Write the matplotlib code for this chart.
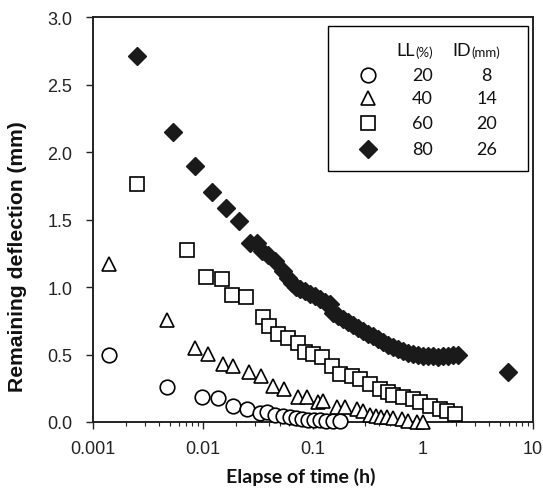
import matplotlib.pyplot as plt
from matplotlib.patches import Rectangle

# LL 20 %, ID 8 mm (open circles)
t_c = [0.0014, 0.0047, 0.0098, 0.0137, 0.0187, 0.0251, 0.033, 0.0382, 0.0452,
       0.0533, 0.0618, 0.070, 0.079, 0.090, 0.102, 0.116, 0.131, 0.152, 0.176]
d_c = [0.50, 0.26, 0.185, 0.178, 0.119, 0.096, 0.067, 0.074, 0.052,
       0.044, 0.037, 0.030, 0.022, 0.015, 0.015, 0.015, 0.007, 0.007, 0.007]

# LL 40 %, ID 14 mm (open triangles)
t_t = [0.0014, 0.0047, 0.00845, 0.0111, 0.0152, 0.0187, 0.0262, 0.0337, 0.0433,
       0.0545, 0.0731, 0.0882, 0.111, 0.123, 0.165, 0.195, 0.251, 0.285, 0.33,
       0.374, 0.415, 0.471, 0.534, 0.644, 0.731, 0.881, 1.0]
d_t = [1.17, 0.756, 0.548, 0.504, 0.430, 0.415, 0.370, 0.341, 0.267,
       0.244, 0.185, 0.185, 0.148, 0.156, 0.111, 0.111, 0.096, 0.081, 0.052,
       0.044, 0.037, 0.037, 0.030, 0.022, 0.007, 0.0, 0.0]

# LL 60 %, ID 20 mm (open squares)
t_s = [0.0025, 0.00716, 0.01064, 0.0149, 0.0184, 0.0246, 0.0351, 0.0398, 0.0481,
       0.0593, 0.0731, 0.0846, 0.1, 0.121, 0.149, 0.176, 0.226, 0.267, 0.33,
       0.406, 0.48, 0.533, 0.658, 0.81, 0.94, 1.16, 1.43, 1.65, 1.95]
d_s = [1.763, 1.274, 1.074, 1.059, 0.941, 0.926, 0.778, 0.711, 0.652,
       0.622, 0.585, 0.519, 0.504, 0.481, 0.415, 0.356, 0.341, 0.319, 0.281,
       0.244, 0.222, 0.200, 0.185, 0.170, 0.148, 0.119, 0.096, 0.081, 0.059]

# LL 80 %, ID 26 mm (filled diamonds)
t_d = [0.00251, 0.00533, 0.00845, 0.01208, 0.0162, 0.0212, 0.0267, 0.031, 0.0344,
       0.039, 0.0452, 0.0533, 0.0593, 0.0644, 0.070, 0.0762, 0.0846, 0.094, 0.104,
       0.116, 0.129, 0.143, 0.152, 0.169, 0.187, 0.208, 0.231, 0.257, 0.285,
       0.316, 0.351, 0.390, 0.433, 0.481, 0.534, 0.592, 0.658, 0.731, 0.811,
       0.901, 1.0, 1.11, 1.23, 1.37, 1.52, 1.69, 1.87, 2.08, 5.93]
d_d = [2.711, 2.148, 1.896, 1.704, 1.585, 1.489, 1.326, 1.326, 1.267,
       1.237, 1.193, 1.119, 1.067, 1.030, 1.000, 0.985, 0.970, 0.948, 0.933,
       0.911, 0.889, 0.874, 0.807, 0.785, 0.763, 0.741, 0.719, 0.696, 0.674,
       0.652, 0.637, 0.615, 0.593, 0.570, 0.556, 0.541, 0.526, 0.511, 0.504,
       0.496, 0.489, 0.489, 0.489, 0.481, 0.489, 0.489, 0.496, 0.496, 0.370]

ll_vals = ['20', '40', '60', '80']
id_vals = ['8', '14', '20', '26']

xticks = [0.001, 0.01, 0.1, 1, 10]
xtick_labels = ['0.001', '0.01', '0.1', '1', '10']
yticks = [0.0, 0.5, 1.0, 1.5, 2.0, 2.5, 3.0]
ytick_labels = ['0.0', '0.5', '1.0', '1.5', '2.0', '2.5', '3.0']

fig = plt.figure(figsize=(5.43, 4.89), dpi=100)
ax = fig.add_axes([0.1713, 0.135, 0.8103, 0.828])

series = [
    (t_c, d_c, dict(marker='o', ms=10.5, mfc='white', mec='black', mew=1.2)),
    (t_t, d_t, dict(marker='^', ms=10.5, mfc='white', mec='black', mew=1.2)),
    (t_s, d_s, dict(marker='s', ms=10, mfc='white', mec='black', mew=1.2)),
    (t_d, d_d, dict(marker='D', ms=9.6, mfc='#1a1a1a', mec='#1a1a1a', mew=1)),
]
for t, d, style in series:
    ax.plot(t, d, linestyle='none', clip_on=False, zorder=3, **style)

ax.set_xscale('log')
ax.set_xlim(0.001, 10)
ax.set_ylim(0, 3.0)
ax.set_xticks(xticks)
ax.set_xticklabels(xtick_labels)
ax.set_yticks(yticks)
ax.set_yticklabels(ytick_labels)

for s in ax.spines.values():
    s.set_linewidth(1.4)
    s.set_color('#222222')
ax.tick_params(axis='both', which='major', direction='out', length=5, width=1,
               colors='#222222', labelsize=13)
ax.tick_params(axis='y', which='major', pad=10)
ax.tick_params(axis='x', which='major', pad=8)
ax.tick_params(axis='x', which='minor', direction='out', length=3, width=0.8,
               colors='#222222')
for lab in ax.get_xticklabels() + ax.get_yticklabels():
    lab.set_family('Liberation Sans')

ax.set_xlabel('Elapse of time (h)', fontsize=14, fontweight='bold',
              family='Lato', color='#111111')
ax.xaxis.set_label_coords(0.473, -0.112)
ax.set_ylabel('Remaining deflection (mm)', fontsize=15.2, fontweight='bold',
              family='Liberation Sans', color='#111111')
ax.yaxis.set_label_coords(-0.15, 0.41)

# legend drawn as a small table
ax.add_patch(Rectangle((0.534, 0.620), 0.455, 0.358, transform=ax.transAxes,
                       fill=True, facecolor='white', edgecolor='black',
                       linewidth=1.0, zorder=4))
tx = dict(transform=ax.transAxes, family='Lato', color='#111111', zorder=5,
          va='center')
ax.text(0.732, 0.918, 'LL', fontsize=13, ha='right', **tx)
ax.text(0.732, 0.914, '(%)', fontsize=9.5, ha='left', **tx)
ax.text(0.859, 0.918, 'ID', fontsize=13, ha='right', **tx)
ax.text(0.859, 0.914, '(mm)', fontsize=9.5, ha='left', **tx)
row_y = [0.857, 0.800, 0.738, 0.674]
for (t, d, style), yy, ll, idv in zip(series, row_y, ll_vals, id_vals):
    ax.plot([0.625], [yy], transform=ax.transAxes, linestyle='none',
            clip_on=False, zorder=5, **style)
    ax.text(0.748, yy, ll, fontsize=13, ha='center', **tx)
    ax.text(0.895, yy, idv, fontsize=13, ha='center', **tx)

fig.savefig('out.png', dpi=100)
